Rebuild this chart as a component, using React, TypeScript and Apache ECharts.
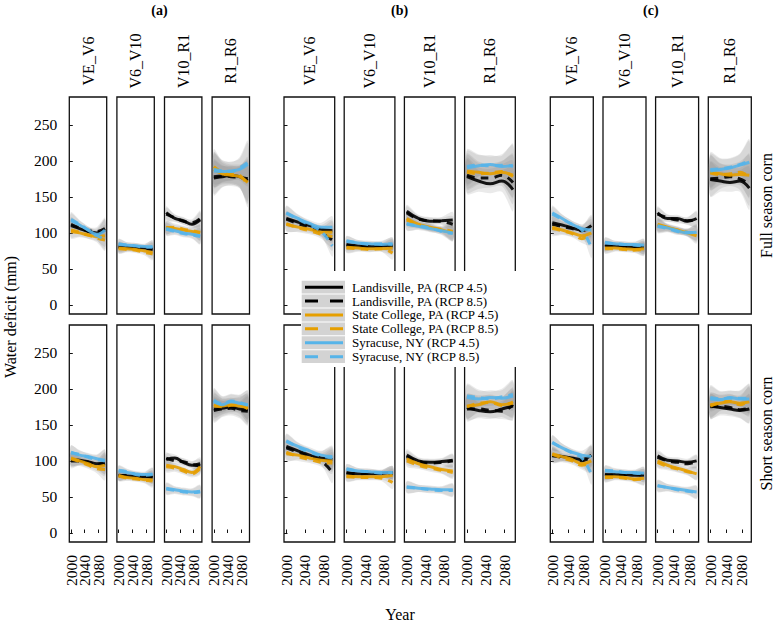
import React, { useEffect, useRef } from "react";
import * as echarts from "echarts";

// ---------- data ----------
const years = [2000, 2025, 2050, 2075, 2099];
const xTicks = [2000, 2040, 2080];
const yTicks = [0, 50, 100, 150, 200, 250];
const groupLabels = ["(a)", "(b)", "(c)"];
const stages = ["VE_V6", "V6_V10", "V10_R1", "R1_R6"];
const rowLabels = ["Full season corn", "Short season corn"];
const seriesNames = [
  "Landisville, PA (RCP 4.5)",
  "Landisville, PA (RCP 8.5)",
  "State College, PA (RCP 4.5)",
  "State College, PA (RCP 8.5)",
  "Syracuse, NY (RCP 4.5)",
  "Syracuse, NY (RCP 8.5)",
];
const seriesColors = ["#000000", "#000000", "#E69F00", "#E69F00", "#56B4E9", "#56B4E9"];
const seriesDashed = [false, true, false, true, false, true];

// per stage: 6 series (order as seriesNames) x values at `years`
const fullA = [
  [[110,106,102,100,104],[112,107,103,102,106],[102,100,97,95,96],[104,101,97,93,90],[117,111,104,98,104],[119,112,104,96,92]],
  [[81,80,79,79,78],[80,79,80,78,77],[79,78,77,75,73],[78,77,76,73,71],[84,83,82,81,80],[85,83,82,80,81]],
  [[128,120,117,112,118],[126,121,116,114,120],[108,106,104,102,100],[107,108,105,103,101],[106,103,100,98,96],[105,102,99,97,95]],
  [[176,178,180,178,172],[178,179,178,177,175],[188,182,180,178,170],[192,184,182,180,166],[186,185,186,188,195],[188,186,185,190,198]],
];
const shortA = [
  [[102,101,99,96,97],[100,100,98,95,96],[104,100,96,92,94],[103,99,94,89,88],[112,108,106,103,101],[111,109,105,102,100]],
  [[80,79,79,78,78],[79,80,78,79,77],[80,77,76,74,74],[79,76,75,73,72],[86,84,82,81,82],[87,85,81,80,81]],
  [[102,104,98,94,96],[104,100,99,95,93],[94,92,88,84,92],[92,90,86,82,90],[62,60,58,57,58],[61,59,57,56,57]],
  [[172,173,175,172,171],[170,172,173,170,169],[178,176,178,176,174],[176,175,177,178,172],[182,178,182,180,178],[184,179,183,181,177]],
];
const fullB = [
  [[120,115,110,105,103],[119,113,107,100,90],[112,108,105,101,101],[113,107,103,98,95],[128,120,113,108,108],[127,119,111,102,82]],
  [[84,82,81,82,83],[83,81,82,81,82],[80,79,78,78,79],[79,78,77,78,72],[88,86,85,84,85],[89,86,84,85,84]],
  [[130,120,116,117,118],[128,119,117,116,112],[120,112,108,104,100],[118,111,107,105,102],[113,109,106,103,100],[112,110,107,102,99]],
  [[178,172,168,172,160],[180,176,176,180,170],[186,184,182,184,180],[184,182,183,185,178],[190,193,195,192,194],[192,194,193,194,192]],
];
const shortB = [
  [[120,114,108,104,102],[118,112,106,100,84],[110,108,104,101,100],[112,106,102,98,97],[128,120,114,108,106],[127,119,112,107,104]],
  [[84,82,82,83,84],[83,82,83,82,82],[79,78,78,78,80],[78,77,77,76,70],[88,86,85,84,84],[89,86,85,83,84]],
  [[108,100,98,99,101],[106,99,97,98,100],[103,96,92,88,86],[100,94,90,87,84],[64,62,61,60,60],[63,62,60,59,59]],
  [[174,170,168,172,176],[172,172,170,169,178],[176,178,182,178,180],[175,180,181,177,182],[188,186,188,187,190],[190,188,186,189,192]],
];
const fullC = [
  [[114,111,107,104,110],[112,109,106,103,108],[108,104,100,96,100],[106,103,99,92,98],[128,120,112,106,104],[126,119,112,104,80]],
  [[82,82,81,80,80],[81,83,82,81,79],[79,79,78,77,78],[78,78,77,76,77],[86,85,84,84,83],[87,85,84,83,82]],
  [[128,120,120,116,120],[126,121,118,117,118],[112,108,104,100,96],[111,107,104,101,98],[110,107,103,100,101],[109,106,102,101,100]],
  [[174,172,170,172,162],[175,176,178,175,168],[184,182,180,181,180],[183,181,182,184,178],[186,188,190,194,198],[188,189,191,195,200]],
];
const shortC = [
  [[108,106,104,102,108],[107,105,103,100,106],[110,106,102,96,100],[109,104,100,94,98],[126,118,112,108,106],[125,118,111,104,82]],
  [[80,81,81,80,80],[81,80,81,82,79],[78,78,77,75,76],[77,77,76,74,75],[86,85,84,84,83],[87,86,84,83,82]],
  [[107,101,100,98,100],[105,100,98,96,99],[100,94,90,86,82],[98,92,89,85,83],[66,63,61,59,57],[65,63,60,58,56]],
  [[176,174,172,170,172],[175,176,174,171,173],[178,180,182,180,182],[176,181,183,178,184],[186,185,188,186,186],[188,186,187,187,187]],
];
// confidence band half-widths per stage at `years`
const bandFull = [[10,6,5,6,15],[7,4,4,4,9],[9,5,5,5,11],[24,15,13,15,30]];
const bandShort = [[10,6,5,6,15],[7,4,4,4,9],[8,5,5,5,9],[17,11,10,11,20]];

// ---------- layout ----------
const FONT = '"Liberation Serif", "Times New Roman", Times, serif';
const GROUP_LEFTS = [
  [69.3, 116.9, 164.5, 212.1],
  [284, 344.2, 404.4, 464.6],
  [550.3, 603, 655.6, 708.3],
];
const GROUP_W = [37.4, 50.7, 43];
const ROW_TOP = [97, 325];
const ROW_H = 217;
const X_MIN = 1995;
const X_MAX = 2104;

function txt(text: string, x: number, y: number, size: number, opts: any = {}) {
  return {
    type: "text",
    x,
    y,
    rotation: opts.rotation || 0,
    style: {
      text,
      fontSize: size,
      fontFamily: FONT,
      fontWeight: opts.bold ? "bold" : "normal",
      fill: "#000",
      align: opts.align || "center",
      verticalAlign: "middle",
      textAlign: opts.align || "center",
      textVerticalAlign: "middle",
    },
  };
}

export default function App() {
  const ref = useRef<HTMLDivElement>(null);
  useEffect(() => {
    if (!ref.current) return;
    document.body.style.margin = "0";
    const chart = echarts.init(ref.current, undefined, { renderer: "svg" });
    const dataTable = [
      [fullA, shortA],
      [fullB, shortB],
      [fullC, shortC],
    ];
    const bands = [bandFull, bandShort];
    const grids: any[] = [];
    const xAxes: any[] = [];
    const labelAxes: any[] = [];
    const yAxes: any[] = [];
    const series: any[] = [];
    const graphics: any[] = [];
    let p = 0;
    for (let g = 0; g < 3; g++) {
      const lefts = GROUP_LEFTS[g];
      const w = GROUP_W[g];
      graphics.push(txt(groupLabels[g], (lefts[0] + lefts[3] + w) / 2, 10, 14, { bold: true }));
      for (let s = 0; s < 4; s++) {
        graphics.push(txt(stages[s], lefts[s] + w / 2, 61, 16, { rotation: Math.PI / 2 }));
      }
      for (let r = 0; r < 2; r++) {
        for (let s = 0; s < 4; s++) {
          grids.push({
            left: lefts[s],
            top: ROW_TOP[r],
            width: w,
            height: ROW_H,
            show: true,
            borderColor: "#111",
            borderWidth: 1.3,
            backgroundColor: "transparent",
          });
          xAxes.push({
            gridIndex: p,
            type: "value",
            position: "bottom",
            min: X_MIN,
            max: X_MAX,
            axisLine: { show: false },
            splitLine: { show: false },
            axisTick: { show: r === 1, inside: true, length: 3.5, customValues: xTicks, lineStyle: { color: "#111", width: 1 } },
            axisLabel: { show: false },
          });
          if (r === 1) {
            // one label-only axis per tick year, so that narrow panels keep all three labels
            for (const t of xTicks) {
              labelAxes.push({
                gridIndex: p,
                type: "value",
                position: "bottom",
                offset: 0,
                min: X_MIN,
                max: X_MAX,
                axisLine: { show: false },
                splitLine: { show: false },
                axisTick: { show: false },
                axisLabel: {
                  show: true,
                  customValues: [t],
                  rotate: 90,
                  margin: 13,
                  formatter: (v: number) => String(v),
                  fontSize: 15.5,
                  fontFamily: FONT,
                  color: "#000",
                },
              });
            }
          }
          yAxes.push({
            gridIndex: p,
            type: "value",
            min: -12.5,
            max: 288.5,
            axisLine: { show: false },
            splitLine: { show: false },
            axisTick: { show: s === 0, inside: true, length: 3.5, customValues: yTicks, lineStyle: { color: "#111", width: 1 } },
            axisLabel: {
              show: g === 0 && s === 0,
              customValues: yTicks,
              margin: 12,
              hideOverlap: false,
              showMinLabel: true,
              showMaxLabel: true,
              formatter: (v: number) => String(v),
              fontSize: 15.5,
              fontFamily: FONT,
              color: "#000",
            },
          });
          const vals = dataTable[g][r][s];
          const hw = bands[r][s];
          // confidence bands (one polygon per series) via custom series
          series.push({
            type: "custom",
            coordinateSystem: "cartesian2d",
            xAxisIndex: p,
            yAxisIndex: p,
            silent: true,
            z: 1,
            data: [0, 1, 2, 3, 4, 5].map((k) => [years[0], vals[k][0], k]),
            renderItem: (params: any, api: any) => {
              const k = api.value(2);
              const v = vals[k];
              const up = years.map((yr, i) => api.coord([yr, v[i] + hw[i]]));
              const lo = years.map((yr, i) => api.coord([yr, v[i] - hw[i]])).reverse();
              return {
                type: "polygon",
                shape: { points: up.concat(lo), smooth: 0.3 },
                style: { fill: "rgba(130,130,130,0.17)", stroke: "none" },
              };
            },
          });
          for (let k = 0; k < 6; k++) {
            const v = vals[k];
            series.push({
              name: seriesNames[k],
              type: "line",
              xAxisIndex: p,
              yAxisIndex: p,
              smooth: 0.4,
              symbol: "none",
              silent: true,
              lineStyle: { color: seriesColors[k], width: 3, opacity: 0.9, type: seriesDashed[k] ? [8, 6] : "solid" },
              data: years.map((yr, i) => [yr, v[i]]),
              z: 2,
            });
          }
          p++;
        }
      }
    }
    // axis titles and strip labels
    graphics.push(txt("Water deficit (mm)", 10, 317, 16, { rotation: Math.PI / 2 }));
    graphics.push(txt("Year", 400, 614, 16));
    for (let r = 0; r < 2; r++) {
      graphics.push(txt(rowLabels[r], 766, ROW_TOP[r] + ROW_H / 2, 16, { rotation: Math.PI / 2 }));
    }
    // legend
    const legY0 = 280.7;
    const rowH = 13.9;
    const legendChildren: any[] = [
      { type: "rect", shape: { x: 301, y: 271, width: 219, height: 96 }, style: { fill: "#fff" } },
    ];
    for (let i = 0; i < 6; i++) {
      const y0 = legY0 + i * rowH;
      const cy = y0 + (rowH - 1) / 2;
      legendChildren.push({ type: "rect", shape: { x: 301.7, y: y0, width: 43.3, height: rowH - 1 }, style: { fill: "#d3d3d3" } });
      legendChildren.push({
        type: "line",
        shape: { x1: 305, y1: cy, x2: 343, y2: cy },
        style: { stroke: seriesColors[i], lineWidth: 3, lineDash: seriesDashed[i] ? [13, 12] : null },
      });
      legendChildren.push(txt(seriesNames[i], 352, cy, 13, { align: "left" }));
    }
    graphics.push({ type: "group", z: 100, children: legendChildren });

    chart.setOption({
      animation: false,
      backgroundColor: "#fff",
      grid: grids,
      xAxis: xAxes.concat(labelAxes),
      yAxis: yAxes,
      series,
      graphic: graphics,
    });
    return () => chart.dispose();
  }, []);
  return <div ref={ref} style={{ width: 775, height: 624 }} />;
}
